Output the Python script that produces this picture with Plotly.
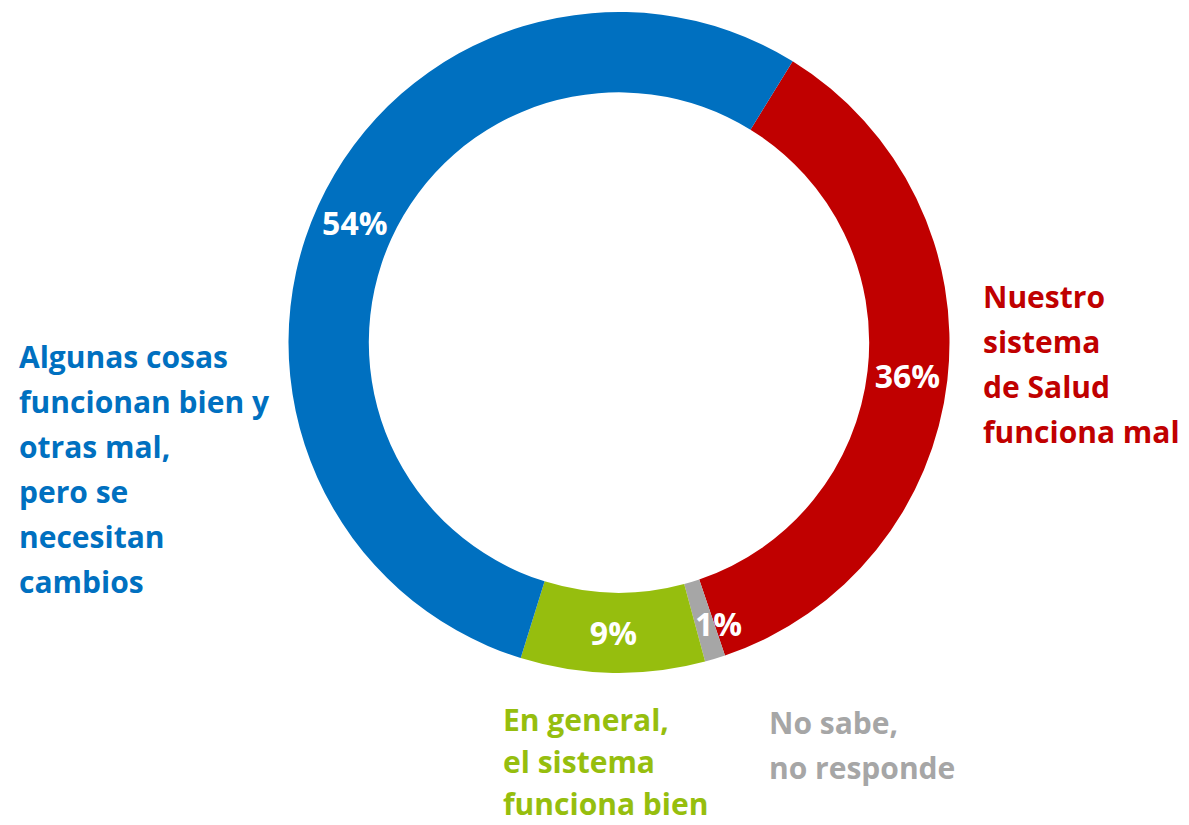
import plotly.graph_objects as go

# slice data (clockwise from the red slice)
labels = ["Nuestro sistema de Salud funciona mal", "No sabe, no responde",
          "En general, el sistema funciona bien",
          "Algunas cosas funcionan bien y otras mal, pero se necesitan cambios"]
values = [36, 1, 9, 54]
colors = ["#C00000", "#A6A6A6", "#96BE0E", "#0070C0"]

# outside label lines per slice
label_lines = {
    "red": ["Nuestro", "sistema", "de Salud", "funciona mal"],
    "grey": ["No sabe,", "no responde"],
    "green": ["En general,", "el sistema", "funciona bien"],
    "blue": ["Algunas cosas", "funcionan bien y", "otras mal,", "pero se",
             "necesitan", "cambios"],
}
label_colors = {"red": "#C00000", "grey": "#A6A6A6", "green": "#96BE0E", "blue": "#0070C0"}
# left edge, first baseline, line step (page px)
label_pos = {"red": (981, 308, 45), "grey": (767, 734, 45),
             "green": (501, 731, 42), "blue": (17, 368, 45)}

W, H = 1189, 825
FONT = "Open Sans"
LABEL_SIZE = 30
PCT_SIZE = 32


def px(x):
    return x / W


def py(y):
    return 1 - y / H


fig = go.Figure(go.Pie(
    labels=labels,
    values=values,
    text=[f"{v}%" for v in values],
    textinfo="text",
    textposition=["inside", "none", "inside", "inside"],
    insidetextorientation="horizontal",
    textfont=dict(family=FONT, size=PCT_SIZE, color="white", weight=700),
    marker=dict(colors=colors, line=dict(width=0)),
    hole=0.757,
    sort=False,
    direction="clockwise",
    rotation=31.7,
    hoverinfo="label+percent",
    domain=dict(x=[px(288.5), px(949.5)], y=[py(673), py(12)]),
))

annotations = []
for key, lines in label_lines.items():
    x0, base0, step = label_pos[key]
    for i, line in enumerate(lines):
        centre = base0 + i * step - 0.388 * LABEL_SIZE
        annotations.append(dict(
            x=px(x0), y=py(centre),
            xref="paper", yref="paper",
            xanchor="left", yanchor="middle",
            text=line, showarrow=False,
            font=dict(family=FONT, size=LABEL_SIZE, color=label_colors[key], weight=700),
        ))

# the 1% slice is too thin for inside text; label it beside the slice
annotations.append(dict(
    x=px(718), y=py(623), xref="paper", yref="paper",
    xanchor="center", yanchor="middle", text=f"{values[1]}%", showarrow=False,
    font=dict(family=FONT, size=PCT_SIZE, color="white", weight=700),
))

fig.update_layout(
    width=W, height=H,
    margin=dict(l=0, r=0, t=0, b=0),
    showlegend=False,
    paper_bgcolor="white",
    plot_bgcolor="white",
    uniformtext=dict(mode="show", minsize=PCT_SIZE),
    annotations=annotations,
)

fig.write_html("out.html", config={"displayModeBar": False},
               post_script="document.body.style.margin = '0';")
